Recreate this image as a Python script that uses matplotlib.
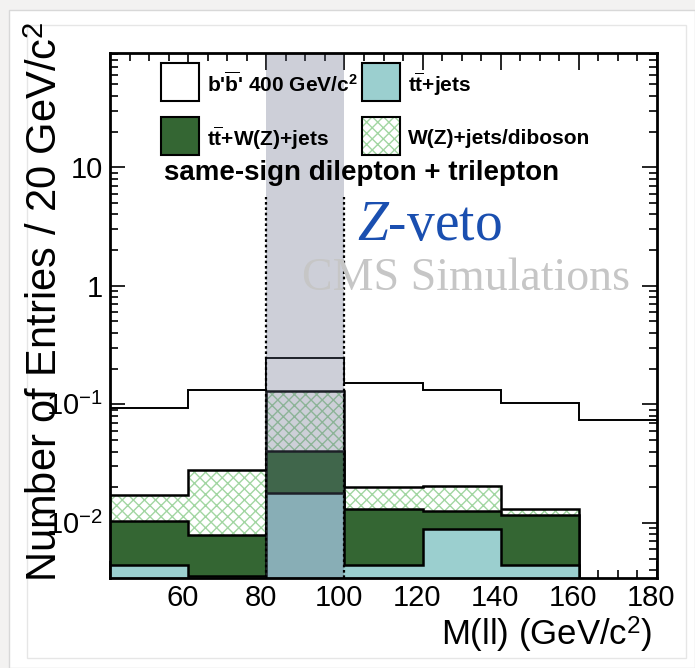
import numpy as np
import matplotlib
matplotlib.use('Agg')
import matplotlib.pyplot as plt
from matplotlib.patches import Rectangle
from matplotlib.transforms import ScaledTranslation
from matplotlib.ticker import FixedLocator, FixedFormatter, LogLocator, MultipleLocator, NullFormatter

plt.rcParams['font.family'] = ['Liberation Sans', 'DejaVu Sans']
plt.rcParams['mathtext.fontset'] = 'custom'
plt.rcParams['mathtext.rm'] = 'Liberation Sans'
plt.rcParams['mathtext.bf'] = 'Liberation Sans:bold'
plt.rcParams['mathtext.it'] = 'Liberation Serif:italic'
plt.rcParams['hatch.linewidth'] = 1.0

# ---------------- data ----------------
bin_edges = [40, 60, 80, 100, 120, 140, 160, 180]
ttjets    = [0.0044, 0.0036, 0.0178, 0.0044, 0.0089, 0.0044, 0.0]
ttwz      = [0.0060, 0.0043, 0.0230, 0.0087, 0.0036, 0.0073, 0.0]
wzdiboson = [0.0068, 0.0198, 0.0882, 0.0068, 0.0081, 0.0014, 0.0]
signal    = [0.094, 0.131, 0.245, 0.151, 0.131, 0.103, 0.074]
z_window  = [80, 100]
z_line_top = 5.6

x_ticks = [40, 60, 80, 100, 120, 140, 160, 180]
x_ticklabels = ['', '60', '80', '100', '120', '140', '160', '180']
y_ticks = [0.01, 0.1, 1, 10]
y_ticklabels = [r'$10^{-2}$', r'$10^{-1}$', '1', '10']

legend_labels = [r"b'$\mathbf{\overline{b}}$' 400 GeV/c$^{\mathbf{2}}$", r"t$\mathbf{\overline{t}}$+jets",
                 r"t$\mathbf{\overline{t}}$+W(Z)+jets", "W(Z)+jets/diboson"]

# ---------------- colours ----------------
c_teal = '#9bcfcf'
c_green = '#346633'
c_hatch = '#a2d6a2'
c_band = '#5e6781'

W, H = 695, 668
fig = plt.figure(figsize=(W / 100, H / 100), dpi=100)
fig.patch.set_facecolor('#f3f2f1')

def fx(px):
    return px / W

def fy(py):
    return 1 - py / H

# page-like panels
fig.add_artist(Rectangle((fx(9), 0), fx(W - 9), fy(10), transform=fig.transFigure,
                         facecolor='white', edgecolor='#d8d8d8', lw=1.0, zorder=0))
fig.add_artist(Rectangle((fx(27), fy(658)), fx(686 - 27), (658 - 25) / H, transform=fig.transFigure,
                         facecolor='white', edgecolor='#e6e6e6', lw=1.0, zorder=0))

ax = fig.add_axes([fx(110), fy(578), fx(657 - 110), (578 - 53) / H])
ax.set_yscale('log')
ax.set_xlim(40, 180)
ax.set_ylim(0.00343, 92)
ax.patch.set_alpha(0)

edges = np.array(bin_edges)
cum1 = np.array(ttjets)
cum2 = cum1 + np.array(ttwz)
cum3 = cum2 + np.array(wzdiboson)
base = 1e-5

# hatched top component
ax.stairs(cum3, edges, baseline=base, fill=True, facecolor='white', edgecolor=c_hatch,
          hatch='xxx', linewidth=0, zorder=2)
ax.stairs(cum3, edges, baseline=None, color='black', linewidth=1.8, zorder=3)
# ttW(Z)
ax.stairs(cum2, edges, baseline=base, fill=True, facecolor=c_green, linewidth=0, zorder=3)
ax.stairs(cum2, edges, baseline=None, color='black', linewidth=1.8, zorder=3.5)
# tt+jets
ax.stairs(cum1, edges, baseline=base, fill=True, facecolor=c_teal, linewidth=0, zorder=4)
ax.stairs(cum1, edges, baseline=None, color='black', linewidth=1.8, zorder=4.5)
# signal
ax.stairs(signal, edges, baseline=None, color='black', linewidth=1.4, zorder=4.6)

# Z window band
ax.axvspan(z_window[0], z_window[1], facecolor=c_band, alpha=0.31, lw=0, zorder=5)
ax.vlines(z_window, 0.00343, z_line_top, colors='black', linestyles=(0, (1.2, 1.2)),
          linewidth=1.6, zorder=6)

# axes style
for s in ax.spines.values():
    s.set_linewidth(2.0)
    s.set_zorder(10)
ax.xaxis.set_major_locator(FixedLocator(x_ticks))
ax.xaxis.set_major_formatter(FixedFormatter(x_ticklabels))
ax.xaxis.set_minor_locator(MultipleLocator(5))
ax.yaxis.set_major_locator(FixedLocator(y_ticks))
ax.yaxis.set_major_formatter(FixedFormatter(y_ticklabels))
ax.yaxis.set_minor_locator(LogLocator(base=10, subs=np.arange(2, 10)))
ax.yaxis.set_minor_formatter(NullFormatter())
ax.tick_params(which='both', direction='in', top=True, right=True, width=1.2, zorder=10)
ax.tick_params(axis='x', which='major', length=12, labelsize=21, pad=4)
ax.tick_params(axis='x', which='minor', length=6)
ax.tick_params(axis='y', which='major', length=11, labelsize=21, pad=5)
ax.tick_params(axis='y', which='minor', length=5.5)
shift = ScaledTranslation(-5.5 / 100, 0, fig.dpi_scale_trans)
for lab in ax.get_xticklabels():
    lab.set_transform(lab.get_transform() + shift)

fig.text(fx(652), fy(646), r'M(ll) (GeV/c$^2$)', fontsize=25, ha='right', va='baseline')
fig.text(fx(46), fy(302), r'Number of Entries / 20 GeV/c$^2$', fontsize=30, rotation=90,
         ha='center', va='center')

# legend
boxes = [(161, 63), (362, 63), (161, 117), (362, 117)]
styles = [dict(facecolor='white'), dict(facecolor=c_teal), dict(facecolor=c_green),
          dict(facecolor='white', hatch='xxx')]
for (bx, by), st, lab in zip(boxes, styles, legend_labels):
    if 'hatch' in st:
        fig.add_artist(Rectangle((fx(bx), fy(by + 38)), fx(38), 38 / H, transform=fig.transFigure,
                                 facecolor='white', edgecolor=c_hatch, hatch=st['hatch'], lw=0, zorder=20))
        fig.add_artist(Rectangle((fx(bx), fy(by + 38)), fx(38), 38 / H, transform=fig.transFigure,
                                 facecolor='none', edgecolor='black', lw=1.5, zorder=21))
    else:
        fig.add_artist(Rectangle((fx(bx), fy(by + 38)), fx(38), 38 / H, transform=fig.transFigure,
                                 edgecolor='black', lw=1.5, zorder=20, **st))
    fig.text(fx(bx + 46), fy(by + 21), lab, fontsize=15, fontweight='bold', ha='left', va='center',
             zorder=22)

fig.text(fx(362), fy(173), 'same-sign dilepton + trilepton', fontsize=20, fontweight='bold',
         ha='center', va='center', zorder=22)
fig.text(fx(357), fy(240), r'$\mathit{Z}$-veto', fontsize=40, family='Liberation Serif',
         color='#1a4fb0', ha='left', va='baseline', zorder=22)
fig.text(fx(466), fy(290), 'CMS Simulations', fontsize=33, family='Liberation Serif',
         color='#c6c6c6', ha='center', va='baseline', zorder=22)

fig.savefig('out.png', dpi=100, facecolor=fig.get_facecolor())
